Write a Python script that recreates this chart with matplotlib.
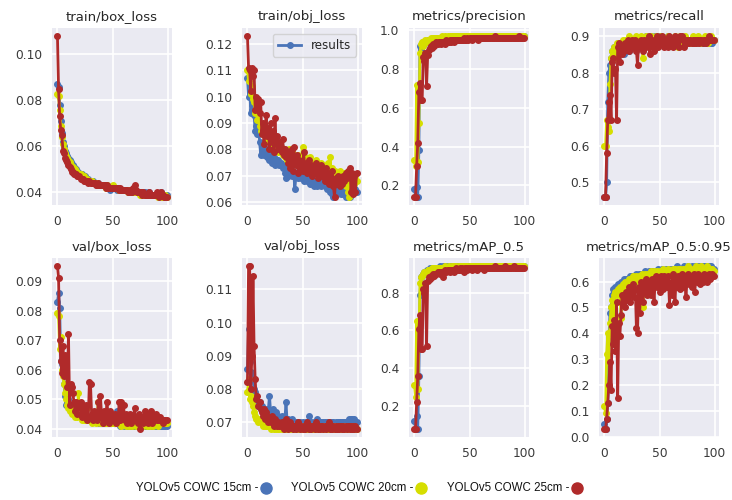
import matplotlib
matplotlib.use("Agg")
import matplotlib.pyplot as plt
from matplotlib.lines import Line2D
import numpy as np

epochs = list(range(100))
series_names = ["YOLOv5 COWC 15cm", "YOLOv5 COWC 20cm", "YOLOv5 COWC 25cm"]
titles = ["train/box_loss", "train/obj_loss", "metrics/precision", "metrics/recall",
          "val/box_loss", "val/obj_loss", "metrics/mAP_0.5", "metrics/mAP_0.5:0.95"]

# ---------------- train/box_loss ----------------
train_box_15 = [0.087,0.086,0.078,0.071,0.066,0.062,0.060,0.058,0.057,0.056,
 0.055,0.054,0.053,0.052,0.052,0.051,0.050,0.050,0.049,0.049,
 0.048,0.048,0.048,0.047,0.047,0.047,0.046,0.046,0.046,0.045,
 0.045,0.045,0.045,0.044,0.044,0.044,0.044,0.044,0.043,0.043,
 0.043,0.043,0.043,0.043,0.043,0.042,0.042,0.042,0.041,0.042,
 0.042,0.042,0.042,0.042,0.041,0.042,0.041,0.041,0.041,0.041,
 0.041,0.041,0.041,0.041,0.041,0.040,0.040,0.040,0.040,0.040,
 0.040,0.040,0.040,0.040,0.040,0.040,0.039,0.040,0.039,0.040,
 0.039,0.039,0.039,0.040,0.039,0.039,0.039,0.039,0.039,0.039,
 0.039,0.039,0.039,0.039,0.040,0.039,0.039,0.039,0.039,0.039]
train_box_20 = [0.083,0.082,0.076,0.069,0.064,0.061,0.059,0.057,0.056,0.055,
 0.054,0.053,0.052,0.051,0.051,0.050,0.050,0.049,0.049,0.048,
 0.048,0.048,0.047,0.047,0.047,0.046,0.046,0.046,0.045,0.045,
 0.045,0.045,0.044,0.044,0.044,0.044,0.044,0.043,0.043,0.043,
 0.043,0.043,0.043,0.043,0.042,0.043,0.042,0.042,0.042,0.042,
 0.043,0.042,0.042,0.042,0.042,0.042,0.041,0.041,0.041,0.041,
 0.041,0.041,0.041,0.041,0.040,0.041,0.040,0.040,0.040,0.040,
 0.040,0.040,0.040,0.040,0.040,0.039,0.040,0.039,0.039,0.039,
 0.039,0.039,0.039,0.039,0.039,0.039,0.039,0.039,0.039,0.039,
 0.039,0.038,0.039,0.039,0.039,0.038,0.039,0.038,0.039,0.038]
train_box_25 = [0.108,0.085,0.073,0.067,0.065,0.058,0.057,0.055,0.054,0.053,
 0.052,0.051,0.050,0.049,0.049,0.048,0.048,0.048,0.047,0.047,
 0.047,0.046,0.046,0.046,0.045,0.045,0.045,0.045,0.044,0.045,
 0.044,0.044,0.044,0.044,0.044,0.043,0.043,0.044,0.043,0.043,
 0.043,0.043,0.043,0.043,0.042,0.043,0.042,0.042,0.042,0.042,
 0.042,0.042,0.042,0.042,0.042,0.042,0.041,0.042,0.041,0.041,
 0.041,0.041,0.041,0.041,0.040,0.040,0.041,0.040,0.040,0.042,
 0.043,0.041,0.040,0.040,0.040,0.040,0.040,0.039,0.040,0.039,
 0.039,0.039,0.039,0.040,0.039,0.039,0.039,0.039,0.039,0.039,
 0.040,0.039,0.038,0.039,0.040,0.039,0.039,0.038,0.038,0.038]

# ---------------- train/obj_loss ----------------
train_obj_15 = [0.107,0.100,0.104,0.094,0.097,0.096,0.093,0.087,0.089,0.086,
 0.090,0.083,0.078,0.082,0.081,0.078,0.079,0.080,0.077,0.078,
 0.076,0.079,0.075,0.076,0.077,0.074,0.076,0.075,0.076,0.074,
 0.075,0.074,0.073,0.074,0.071,0.069,0.072,0.070,0.073,0.071,
 0.070,0.072,0.071,0.065,0.070,0.071,0.069,0.070,0.071,0.069,
 0.070,0.068,0.071,0.069,0.068,0.070,0.069,0.067,0.069,0.068,
 0.066,0.068,0.067,0.066,0.068,0.067,0.069,0.066,0.067,0.068,
 0.066,0.067,0.065,0.067,0.066,0.064,0.065,0.063,0.062,0.064,
 0.065,0.063,0.064,0.066,0.064,0.063,0.065,0.063,0.064,0.062,
 0.065,0.063,0.064,0.062,0.065,0.063,0.066,0.064,0.065,0.064]
train_obj_20 = [0.110,0.106,0.109,0.101,0.104,0.099,0.098,0.094,0.095,0.091,
 0.094,0.089,0.087,0.089,0.086,0.088,0.085,0.087,0.084,0.086,
 0.083,0.085,0.082,0.084,0.081,0.083,0.080,0.082,0.079,0.081,
 0.079,0.080,0.078,0.080,0.077,0.079,0.076,0.078,0.080,0.077,
 0.079,0.076,0.078,0.075,0.077,0.074,0.078,0.076,0.074,0.077,
 0.081,0.075,0.077,0.074,0.076,0.073,0.075,0.077,0.074,0.072,
 0.075,0.073,0.076,0.072,0.074,0.071,0.073,0.075,0.072,0.074,
 0.071,0.073,0.070,0.075,0.072,0.077,0.071,0.073,0.069,0.072,
 0.070,0.068,0.071,0.069,0.072,0.067,0.070,0.068,0.071,0.066,
 0.069,0.064,0.062,0.068,0.070,0.066,0.069,0.067,0.070,0.068]
train_obj_25 = [0.123,0.111,0.110,0.102,0.111,0.108,0.110,0.095,0.100,0.097,
 0.099,0.094,0.098,0.086,0.090,0.082,0.088,0.093,0.085,0.088,
 0.080,0.090,0.083,0.087,0.079,0.092,0.082,0.085,0.080,0.083,
 0.081,0.079,0.084,0.078,0.080,0.077,0.079,0.075,0.078,0.073,
 0.080,0.072,0.081,0.076,0.074,0.078,0.071,0.076,0.073,0.075,
 0.072,0.079,0.073,0.075,0.071,0.074,0.076,0.072,0.074,0.070,
 0.073,0.071,0.075,0.072,0.069,0.073,0.071,0.074,0.070,0.072,
 0.068,0.073,0.069,0.071,0.067,0.070,0.068,0.072,0.066,0.062,
 0.069,0.067,0.070,0.068,0.066,0.069,0.067,0.070,0.068,0.071,
 0.069,0.072,0.070,0.073,0.064,0.071,0.063,0.070,0.064,0.071]

# ---------------- metrics/precision ----------------
precision_15 = [0.18,0.14,0.19,0.14,0.38,0.92,0.90,0.93,0.94,0.93,
 0.94,0.94,0.95,0.94,0.95,0.95,0.95,0.95,0.96,0.95,
 0.95,0.96,0.96,0.95,0.96,0.96,0.96,0.96,0.96,0.96,
 0.96,0.96,0.96,0.96,0.97,0.96,0.96,0.97,0.96,0.96,
 0.97,0.96,0.97,0.96,0.97,0.97,0.96,0.97,0.97,0.96,
 0.97,0.97,0.97,0.96,0.97,0.97,0.97,0.97,0.96,0.97,
 0.97,0.97,0.97,0.97,0.97,0.96,0.97,0.97,0.97,0.97,
 0.97,0.97,0.97,0.97,0.97,0.97,0.97,0.97,0.97,0.97,
 0.97,0.97,0.97,0.97,0.97,0.97,0.97,0.97,0.97,0.97,
 0.97,0.97,0.97,0.97,0.97,0.97,0.97,0.97,0.97,0.97]
precision_20 = [0.33,0.30,0.72,0.32,0.52,0.88,0.93,0.94,0.92,0.94,
 0.95,0.94,0.95,0.95,0.95,0.96,0.95,0.96,0.96,0.96,
 0.96,0.96,0.96,0.96,0.96,0.97,0.96,0.96,0.97,0.96,
 0.97,0.96,0.97,0.97,0.96,0.97,0.97,0.97,0.96,0.97,
 0.97,0.97,0.96,0.97,0.97,0.97,0.97,0.96,0.97,0.97,
 0.97,0.97,0.97,0.97,0.96,0.97,0.97,0.97,0.97,0.97,
 0.97,0.96,0.97,0.97,0.97,0.97,0.97,0.97,0.97,0.97,
 0.97,0.97,0.97,0.97,0.97,0.97,0.97,0.97,0.97,0.97,
 0.97,0.97,0.97,0.97,0.97,0.97,0.97,0.97,0.97,0.97,
 0.97,0.97,0.97,0.97,0.97,0.97,0.97,0.97,0.97,0.97]
precision_25 = [0.14,0.14,0.30,0.42,0.68,0.73,0.64,0.64,0.86,0.84,
 0.88,0.71,0.87,0.90,0.91,0.92,0.91,0.93,0.92,0.93,
 0.94,0.93,0.94,0.94,0.93,0.94,0.94,0.94,0.93,0.95,
 0.94,0.94,0.95,0.94,0.95,0.95,0.94,0.95,0.95,0.95,
 0.95,0.95,0.95,0.95,0.95,0.96,0.95,0.95,0.96,0.95,
 0.96,0.96,0.95,0.96,0.96,0.96,0.96,0.96,0.95,0.96,
 0.96,0.96,0.96,0.96,0.96,0.96,0.96,0.96,0.96,0.96,
 0.96,0.96,0.96,0.97,0.96,0.96,0.96,0.96,0.96,0.96,
 0.96,0.96,0.96,0.96,0.96,0.96,0.96,0.96,0.96,0.96,
 0.96,0.96,0.96,0.96,0.96,0.97,0.96,0.96,0.96,0.96]

# ---------------- metrics/recall ----------------
recall_15 = [0.46,0.46,0.50,0.72,0.80,0.82,0.84,0.86,0.85,0.87,
 0.86,0.87,0.88,0.86,0.87,0.88,0.86,0.87,0.85,0.88,
 0.87,0.88,0.86,0.88,0.87,0.88,0.89,0.87,0.88,0.89,
 0.88,0.89,0.87,0.88,0.89,0.88,0.89,0.88,0.90,0.89,
 0.88,0.89,0.90,0.89,0.88,0.89,0.90,0.89,0.88,0.89,
 0.90,0.89,0.89,0.88,0.89,0.89,0.88,0.89,0.90,0.89,
 0.89,0.88,0.89,0.89,0.88,0.89,0.89,0.88,0.89,0.89,
 0.88,0.89,0.89,0.88,0.89,0.88,0.89,0.88,0.88,0.89,
 0.88,0.89,0.88,0.88,0.89,0.88,0.88,0.89,0.88,0.88,
 0.88,0.88,0.89,0.88,0.88,0.88,0.88,0.88,0.88,0.89]
recall_20 = [0.60,0.60,0.67,0.65,0.64,0.77,0.84,0.86,0.85,0.87,
 0.84,0.88,0.86,0.88,0.87,0.88,0.87,0.89,0.88,0.89,
 0.88,0.89,0.90,0.88,0.89,0.88,0.89,0.88,0.89,0.90,
 0.89,0.88,0.89,0.90,0.88,0.84,0.88,0.89,0.90,0.89,
 0.88,0.89,0.90,0.89,0.88,0.89,0.88,0.90,0.89,0.88,
 0.89,0.90,0.89,0.88,0.89,0.89,0.88,0.89,0.90,0.89,
 0.88,0.89,0.88,0.89,0.90,0.89,0.88,0.87,0.89,0.90,
 0.89,0.88,0.89,0.90,0.89,0.88,0.89,0.89,0.88,0.89,
 0.90,0.89,0.88,0.89,0.89,0.90,0.89,0.88,0.89,0.89,
 0.89,0.90,0.89,0.89,0.88,0.89,0.89,0.90,0.89,0.89]
recall_25 = [0.46,0.46,0.58,0.67,0.72,0.74,0.67,0.83,0.84,0.80,
 0.81,0.67,0.87,0.88,0.83,0.86,0.85,0.87,0.86,0.88,
 0.87,0.89,0.86,0.88,0.87,0.89,0.88,0.87,0.89,0.86,
 0.82,0.88,0.87,0.89,0.88,0.86,0.89,0.88,0.87,0.89,
 0.90,0.85,0.88,0.89,0.87,0.86,0.89,0.88,0.90,0.87,
 0.89,0.88,0.90,0.89,0.87,0.89,0.88,0.89,0.87,0.90,
 0.88,0.89,0.87,0.88,0.90,0.89,0.88,0.89,0.87,0.90,
 0.90,0.89,0.87,0.88,0.89,0.88,0.89,0.88,0.89,0.88,
 0.89,0.88,0.89,0.88,0.89,0.89,0.88,0.89,0.89,0.88,
 0.89,0.89,0.88,0.89,0.89,0.90,0.89,0.89,0.89,0.89]

# ---------------- val/box_loss ----------------
val_box_15 = [0.083,0.086,0.081,0.063,0.062,0.063,0.055,0.051,0.048,0.049,
 0.050,0.048,0.047,0.047,0.046,0.046,0.047,0.045,0.046,0.045,
 0.046,0.045,0.044,0.045,0.044,0.045,0.044,0.043,0.044,0.044,
 0.043,0.044,0.043,0.044,0.043,0.043,0.044,0.043,0.042,0.043,
 0.044,0.043,0.042,0.043,0.043,0.042,0.043,0.042,0.043,0.042,
 0.042,0.043,0.042,0.042,0.046,0.042,0.042,0.041,0.042,0.042,
 0.041,0.042,0.042,0.041,0.042,0.041,0.042,0.041,0.042,0.041,
 0.041,0.042,0.041,0.041,0.042,0.041,0.041,0.042,0.041,0.041,
 0.041,0.041,0.042,0.041,0.041,0.041,0.042,0.041,0.041,0.041,
 0.041,0.041,0.041,0.042,0.041,0.041,0.041,0.041,0.041,0.041]
val_box_20 = [0.079,0.078,0.067,0.071,0.060,0.058,0.055,0.052,0.050,0.048,
 0.047,0.046,0.047,0.045,0.046,0.045,0.044,0.045,0.044,0.052,
 0.045,0.044,0.043,0.044,0.043,0.044,0.043,0.047,0.043,0.044,
 0.043,0.042,0.043,0.044,0.043,0.042,0.043,0.049,0.043,0.042,
 0.043,0.042,0.043,0.042,0.042,0.043,0.042,0.042,0.043,0.042,
 0.042,0.043,0.042,0.042,0.042,0.043,0.042,0.042,0.041,0.042,
 0.042,0.042,0.041,0.042,0.042,0.041,0.042,0.042,0.041,0.042,
 0.042,0.041,0.042,0.041,0.042,0.042,0.041,0.042,0.041,0.042,
 0.042,0.041,0.042,0.042,0.041,0.042,0.042,0.041,0.042,0.042,
 0.042,0.041,0.042,0.042,0.042,0.042,0.042,0.042,0.042,0.042]
val_box_25 = [0.095,0.091,0.070,0.063,0.059,0.068,0.058,0.065,0.060,0.054,
 0.072,0.048,0.055,0.054,0.052,0.049,0.046,0.049,0.045,0.047,
 0.048,0.049,0.044,0.047,0.046,0.044,0.048,0.043,0.044,0.056,
 0.055,0.045,0.043,0.046,0.044,0.045,0.043,0.049,0.044,0.051,
 0.045,0.042,0.046,0.043,0.045,0.049,0.044,0.042,0.046,0.043,
 0.044,0.043,0.045,0.042,0.044,0.043,0.049,0.043,0.049,0.044,
 0.048,0.043,0.045,0.042,0.044,0.043,0.045,0.042,0.044,0.043,
 0.047,0.043,0.044,0.042,0.045,0.040,0.043,0.044,0.042,0.046,
 0.043,0.044,0.042,0.045,0.043,0.046,0.042,0.044,0.043,0.045,
 0.043,0.044,0.043,0.044,0.043,0.043,0.042,0.043,0.043,0.043]

# ---------------- val/obj_loss ----------------
val_obj_15 = [0.086,0.098,0.088,0.085,0.084,0.083,0.080,0.079,0.077,0.076,
 0.075,0.076,0.074,0.075,0.074,0.073,0.074,0.073,0.072,0.074,
 0.078,0.073,0.072,0.074,0.071,0.072,0.073,0.071,0.072,0.071,
 0.070,0.072,0.071,0.070,0.071,0.076,0.070,0.071,0.070,0.070,
 0.071,0.070,0.069,0.070,0.070,0.069,0.070,0.069,0.070,0.069,
 0.070,0.069,0.069,0.070,0.069,0.070,0.072,0.069,0.070,0.069,
 0.070,0.069,0.070,0.071,0.069,0.070,0.069,0.070,0.069,0.070,
 0.070,0.069,0.070,0.069,0.070,0.070,0.069,0.070,0.070,0.069,
 0.070,0.069,0.070,0.070,0.070,0.069,0.070,0.070,0.070,0.070,
 0.070,0.070,0.071,0.070,0.071,0.071,0.070,0.071,0.070,0.070]
val_obj_20 = [0.079,0.083,0.077,0.078,0.076,0.075,0.073,0.072,0.071,0.071,
 0.070,0.071,0.070,0.070,0.069,0.070,0.069,0.069,0.070,0.069,
 0.069,0.068,0.069,0.069,0.068,0.069,0.068,0.069,0.068,0.068,
 0.069,0.068,0.068,0.069,0.068,0.068,0.069,0.068,0.068,0.068,
 0.069,0.068,0.068,0.069,0.068,0.068,0.069,0.068,0.068,0.069,
 0.068,0.068,0.069,0.068,0.068,0.069,0.068,0.068,0.069,0.068,
 0.068,0.069,0.068,0.068,0.069,0.068,0.068,0.069,0.068,0.068,
 0.069,0.068,0.068,0.069,0.068,0.068,0.069,0.068,0.068,0.069,
 0.068,0.068,0.069,0.068,0.068,0.069,0.068,0.068,0.069,0.068,
 0.068,0.069,0.068,0.068,0.069,0.068,0.068,0.069,0.068,0.068]
val_obj_25 = [0.082,0.117,0.117,0.080,0.090,0.114,0.093,0.083,0.077,0.078,
 0.075,0.076,0.074,0.073,0.072,0.074,0.071,0.073,0.072,0.070,
 0.071,0.070,0.072,0.070,0.069,0.071,0.070,0.069,0.070,0.069,
 0.069,0.070,0.069,0.068,0.069,0.071,0.069,0.068,0.069,0.070,
 0.069,0.068,0.069,0.069,0.068,0.069,0.070,0.069,0.068,0.069,
 0.068,0.069,0.068,0.069,0.070,0.069,0.068,0.069,0.068,0.069,
 0.069,0.068,0.070,0.069,0.068,0.069,0.068,0.069,0.069,0.068,
 0.069,0.068,0.069,0.069,0.070,0.068,0.069,0.068,0.069,0.068,
 0.069,0.068,0.069,0.068,0.069,0.069,0.068,0.069,0.068,0.069,
 0.068,0.069,0.069,0.068,0.069,0.068,0.069,0.068,0.069,0.068]

# ---------------- metrics/mAP_0.5 ----------------
map50_15 = [0.12,0.08,0.15,0.08,0.36,0.79,0.88,0.89,0.90,0.91,
 0.91,0.92,0.92,0.92,0.93,0.92,0.93,0.93,0.93,0.93,
 0.93,0.93,0.93,0.94,0.93,0.93,0.94,0.93,0.93,0.94,
 0.93,0.94,0.93,0.94,0.94,0.93,0.94,0.94,0.93,0.94,
 0.94,0.94,0.93,0.94,0.94,0.94,0.94,0.93,0.94,0.94,
 0.94,0.94,0.94,0.94,0.93,0.94,0.94,0.94,0.94,0.94,
 0.94,0.94,0.94,0.94,0.94,0.94,0.94,0.94,0.94,0.94,
 0.94,0.94,0.94,0.94,0.94,0.94,0.94,0.94,0.94,0.94,
 0.94,0.94,0.94,0.94,0.94,0.94,0.94,0.94,0.94,0.94,
 0.94,0.94,0.94,0.94,0.94,0.94,0.94,0.94,0.94,0.94]
map50_20 = [0.31,0.25,0.65,0.29,0.52,0.85,0.88,0.89,0.90,0.91,
 0.91,0.91,0.92,0.92,0.92,0.92,0.93,0.93,0.93,0.93,
 0.93,0.93,0.92,0.93,0.93,0.93,0.93,0.93,0.94,0.93,
 0.93,0.94,0.93,0.93,0.94,0.93,0.94,0.93,0.94,0.93,
 0.94,0.94,0.93,0.94,0.94,0.93,0.94,0.94,0.94,0.93,
 0.94,0.94,0.94,0.94,0.94,0.93,0.94,0.94,0.94,0.94,
 0.94,0.94,0.94,0.94,0.94,0.94,0.94,0.94,0.94,0.94,
 0.94,0.94,0.94,0.94,0.94,0.94,0.94,0.94,0.94,0.94,
 0.94,0.94,0.94,0.94,0.94,0.94,0.94,0.94,0.94,0.94,
 0.94,0.94,0.94,0.94,0.94,0.94,0.94,0.94,0.94,0.94]
map50_25 = [0.08,0.08,0.22,0.36,0.61,0.68,0.50,0.50,0.82,0.80,
 0.85,0.52,0.86,0.88,0.87,0.89,0.88,0.90,0.89,0.90,
 0.90,0.91,0.91,0.90,0.91,0.91,0.88,0.91,0.92,0.91,
 0.92,0.92,0.91,0.92,0.92,0.92,0.91,0.92,0.93,0.92,
 0.92,0.93,0.92,0.93,0.92,0.91,0.93,0.93,0.92,0.93,
 0.93,0.93,0.92,0.93,0.93,0.93,0.93,0.92,0.93,0.93,
 0.93,0.93,0.93,0.92,0.93,0.93,0.93,0.93,0.93,0.93,
 0.93,0.93,0.93,0.94,0.93,0.93,0.93,0.93,0.93,0.93,
 0.93,0.93,0.94,0.93,0.93,0.93,0.93,0.93,0.93,0.93,
 0.94,0.93,0.93,0.93,0.93,0.93,0.93,0.93,0.93,0.93]

# ---------------- metrics/mAP_0.5:0.95 ----------------
map5095_15 = [0.05,0.03,0.07,0.13,0.37,0.48,0.50,0.55,0.57,0.56,
 0.58,0.57,0.59,0.58,0.59,0.60,0.59,0.60,0.61,0.60,
 0.61,0.60,0.61,0.62,0.61,0.62,0.61,0.62,0.62,0.63,
 0.62,0.63,0.62,0.63,0.63,0.62,0.63,0.64,0.63,0.63,
 0.64,0.63,0.64,0.63,0.64,0.64,0.63,0.64,0.64,0.65,
 0.64,0.64,0.65,0.64,0.60,0.64,0.65,0.64,0.65,0.65,
 0.64,0.65,0.65,0.64,0.65,0.65,0.66,0.65,0.65,0.64,
 0.65,0.65,0.66,0.65,0.65,0.65,0.66,0.65,0.65,0.66,
 0.65,0.65,0.66,0.65,0.66,0.65,0.66,0.65,0.66,0.66,
 0.65,0.66,0.66,0.65,0.66,0.66,0.65,0.66,0.65,0.65]
map5095_20 = [0.12,0.09,0.32,0.40,0.29,0.44,0.50,0.53,0.47,0.55,
 0.56,0.55,0.57,0.56,0.58,0.46,0.57,0.59,0.58,0.60,
 0.59,0.60,0.61,0.60,0.61,0.60,0.62,0.61,0.60,0.62,
 0.61,0.62,0.61,0.62,0.63,0.50,0.62,0.63,0.62,0.63,
 0.62,0.63,0.64,0.62,0.63,0.64,0.63,0.62,0.64,0.63,
 0.64,0.63,0.64,0.65,0.63,0.64,0.63,0.64,0.65,0.64,
 0.63,0.64,0.65,0.64,0.65,0.63,0.64,0.65,0.64,0.65,
 0.64,0.65,0.64,0.65,0.64,0.65,0.66,0.64,0.65,0.64,
 0.65,0.64,0.65,0.66,0.64,0.65,0.64,0.65,0.66,0.65,
 0.65,0.64,0.65,0.66,0.65,0.64,0.65,0.64,0.65,0.64]
map5095_25 = [0.03,0.03,0.07,0.13,0.20,0.29,0.18,0.43,0.36,0.45,
 0.33,0.52,0.15,0.44,0.39,0.47,0.55,0.51,0.55,0.50,
 0.56,0.53,0.58,0.52,0.57,0.55,0.59,0.54,0.57,0.42,
 0.40,0.58,0.48,0.60,0.56,0.52,0.59,0.57,0.61,0.55,
 0.60,0.58,0.55,0.61,0.59,0.52,0.60,0.62,0.58,0.61,
 0.56,0.62,0.60,0.57,0.62,0.59,0.61,0.58,0.62,0.51,
 0.60,0.55,0.63,0.59,0.52,0.61,0.58,0.62,0.60,0.57,
 0.63,0.58,0.62,0.60,0.54,0.61,0.63,0.59,0.62,0.58,
 0.61,0.63,0.56,0.62,0.60,0.63,0.61,0.59,0.62,0.60,
 0.63,0.61,0.62,0.60,0.62,0.63,0.61,0.62,0.63,0.62]

panel_data = [
    (train_box_15, train_box_20, train_box_25),
    (train_obj_15, train_obj_20, train_obj_25),
    (precision_15, precision_20, precision_25),
    (recall_15, recall_20, recall_25),
    (val_box_15, val_box_20, val_box_25),
    (val_obj_15, val_obj_20, val_obj_25),
    (map50_15, map50_20, map50_25),
    (map5095_15, map5095_20, map5095_25),
]

colors = ["#4a74b8", "#d6de00", "#b02a2a"]

plt.rcParams["font.family"] = ["DejaVu Sans"]
W, H = 732, 500
fig = plt.figure(figsize=(W / 100, H / 100), dpi=100)

lefts = [52, 242, 409, 599]
width = 120
rows = [(28, 205), (258, 437)]

axes = []
for i in range(8):
    r, c = divmod(i, 4)
    top, bot = rows[r]
    ax = fig.add_axes([lefts[c] / W, 1 - bot / H, width / W, (bot - top) / H])
    ax.set_facecolor("#EAEAF2")
    for s in ax.spines.values():
        s.set_visible(False)
    ax.grid(True, color="white", linewidth=1.2)
    ax.set_axisbelow(True)
    ax.tick_params(length=0, pad=7, labelsize=8.8, labelcolor="#3a3a3a")
    lines = []
    for k in range(3):
        ln, = ax.plot(epochs, panel_data[i][k], marker=".", markersize=8,
                      linewidth=2, color=colors[k])
        lines.append(ln)
    ax.set_title(titles[i], fontsize=9.5, color="#262626", pad=6)
    ax.set_xticks([0, 50, 100])
    if i == 1:
        ax.legend([lines[0]], ["results"], loc="upper right", fontsize=8.6,
                  frameon=True, facecolor="#EAEAF2", edgecolor="#cccccc",
                  handlelength=2.0, borderpad=0.4, labelcolor="#262626")
    axes.append(ax)

# Bottom legend
leg_y = 1 - 488 / H
text_right = [258, 413, 569]
dot_x = [266, 421, 577]
for k in range(3):
    fig.text(text_right[k] / W, leg_y, series_names[k] + " -", fontsize=8.3,
             family=["Liberation Sans"], ha="right", va="center", color="#111111")
    fig.add_artist(Line2D([dot_x[k] / W], [leg_y], marker="o", markersize=8,
                          color=colors[k], linestyle="", transform=fig.transFigure))

fig.savefig("out.png", dpi=100)
